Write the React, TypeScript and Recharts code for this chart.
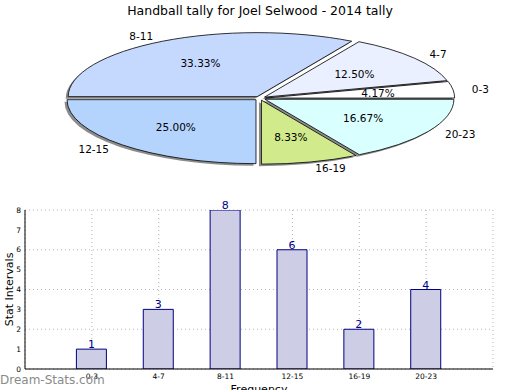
import React from 'react';
import { PieChart, Pie, Cell, BarChart, Bar, XAxis, YAxis, CartesianGrid, LabelList } from 'recharts';

const categories = ['0-3', '4-7', '8-11', '12-15', '16-19', '20-23'];
const counts = [1, 3, 8, 6, 2, 4];
const sliceColors = ['#ffffff', '#eaf0ff', '#c5d8fe', '#b4d4fd', '#d1ea8b', '#daffff'];
const yTicks = [0, 1, 2, 3, 4, 5, 6, 7, 8];
const title = 'Handball tally for Joel Selwood - 2014 tally';
const xLabel = 'Frequency';
const yLabel = 'Stat Intervals';
const watermark = 'Dream-Stats.com';

const pieData = categories.map((c, i) => ({ name: c, value: counts[i] }));
const barData = categories.map((c, i) => ({ name: c, value: counts[i] }));

const FONT = "'DejaVu Sans', 'Liberation Sans', sans-serif";
const K = 64 / 189;
const EXPLODE = 0.03;
const RAD = Math.PI / 180;

function ellPath(cx: number, cy: number, r: number, start: number, end: number, ox: number, oy: number) {
  const x0 = cx + ox;
  const y0 = cy + oy;
  const x1 = x0 + r * Math.cos(start * RAD);
  const y1 = y0 - r * K * Math.sin(start * RAD);
  const x2 = x0 + r * Math.cos(end * RAD);
  const y2 = y0 - r * K * Math.sin(end * RAD);
  const large = Math.abs(end - start) > 180 ? 1 : 0;
  return `M${x0},${y0} L${x1},${y1} A${r},${r * K} 0 ${large} 0 ${x2},${y2} Z`;
}

const makeShape = (shadow: boolean) => (props: any) => {
  const { cx, cy, outerRadius, startAngle, endAngle, fill } = props;
  const mid = (startAngle + endAngle) / 2;
  const e = EXPLODE * outerRadius;
  const ox = e * Math.cos(mid * RAD) + (shadow ? -2.5 : 0);
  const oy = -e * K * Math.sin(mid * RAD) + (shadow ? 2 : 0);
  return (
    <path
      d={ellPath(cx, cy, outerRadius, startAngle, endAngle, ox, oy)}
      fill={shadow ? '#8c8c8c' : fill}
      stroke={shadow ? 'none' : '#000'}
      strokeWidth={0.8}
    />
  );
};

const renderLabel = (props: any) => {
  const { cx, cy, midAngle, outerRadius, percent, index } = props;
  const name = categories[index];
  const c = Math.cos(midAngle * RAD);
  const s = Math.sin(midAngle * RAD);
  const rIn = (0.6 + EXPLODE) * outerRadius;
  const rOut = (1.1 + EXPLODE) * outerRadius;
  return (
    <g>
      <text x={cx + rIn * c} y={cy - rIn * K * s} textAnchor="middle" dominantBaseline="central"
        fontFamily={FONT} fontSize={10.5} fill="#000">
        {(percent * 100).toFixed(2)}%
      </text>
      <text x={cx + rOut * c} y={cy - rOut * K * s} textAnchor={c >= 0 ? 'start' : 'end'} dominantBaseline="central"
        fontFamily={FONT} fontSize={10.5} fill="#000">
        {name}
      </text>
    </g>
  );
};

export default function App() {
  return (
    <div style={{ position: 'absolute', left: 0, top: 0, width: 520, height: 390, overflow: 'hidden', background: '#fff' }}>
      <div style={{ position: 'absolute', left: 0, top: 3, width: 520, textAlign: 'center', fontFamily: FONT, fontSize: 12.5, color: '#000' }}>
        {title}
      </div>
      <div style={{ position: 'absolute', left: 0, top: 0 }}>
        <PieChart width={520} height={200} margin={{ top: 0, right: 0, bottom: 0, left: 0 }}>
          <Pie data={pieData} dataKey="value" nameKey="name" cx={260} cy={98.3} outerRadius={189} innerRadius={0}
            startAngle={0} endAngle={360} isAnimationActive={false} shape={makeShape(true)} label={false} labelLine={false}>
            {pieData.map((d, i) => <Cell key={i} fill="#8c8c8c" />)}
          </Pie>
          <Pie data={pieData} dataKey="value" nameKey="name" cx={260} cy={98.3} outerRadius={189} innerRadius={0}
            startAngle={0} endAngle={360} isAnimationActive={false} shape={makeShape(false)} label={renderLabel} labelLine={false}>
            {pieData.map((d, i) => <Cell key={i} fill={sliceColors[i]} />)}
          </Pie>
        </PieChart>
      </div>
      <div style={{ position: 'absolute', left: 0, top: 200 }}>
        <BarChart width={520} height={200} data={barData} margin={{ top: 10, right: 27, bottom: 10, left: 0 }}>
          <CartesianGrid stroke="#b5b5b5" strokeDasharray="1 3" />
          <XAxis dataKey="name" height={21} padding={{ left: 33.4, right: 33.4 }} tickSize={0} tickMargin={5}
            axisLine={{ stroke: '#000' }} tick={{ fontSize: 7.5, fontFamily: FONT, fill: '#000' }} interval={0}
            label={{ value: xLabel, position: 'bottom', offset: -5, style: { fontSize: 11, fontFamily: FONT, fill: '#000' } }} />
          <XAxis xAxisId="top" orientation="top" height={0} tick={false} tickLine={false} axisLine={{ stroke: '#000' }} />
          <YAxis width={25} domain={[0, 8]} ticks={yTicks} tickSize={0} tickMargin={4} axisLine={{ stroke: '#000' }}
            tick={{ fontSize: 7.5, fontFamily: FONT, fill: '#000' }} allowDataOverflow
            label={{ value: yLabel, angle: -90, position: 'insideLeft', offset: 9, style: { textAnchor: 'middle', fontSize: 11, fontFamily: FONT, fill: '#000' } }} />
          <YAxis yAxisId="r" orientation="right" width={0} tick={false} tickLine={false} axisLine={{ stroke: '#000' }} />
          <Bar dataKey="value" barSize={30} fill="#cdcde6" stroke="#000080" strokeWidth={1} isAnimationActive={false}>
            <LabelList dataKey="value" position="top" offset={1} fill="#00008b" fontSize={11} fontFamily={FONT} />
          </Bar>
        </BarChart>
      </div>
      <div style={{ position: 'absolute', left: 0, top: 373, fontFamily: FONT, fontSize: 12, color: '#8a8a8a', lineHeight: '14px' }}>
        {watermark}
      </div>
    </div>
  );
}
